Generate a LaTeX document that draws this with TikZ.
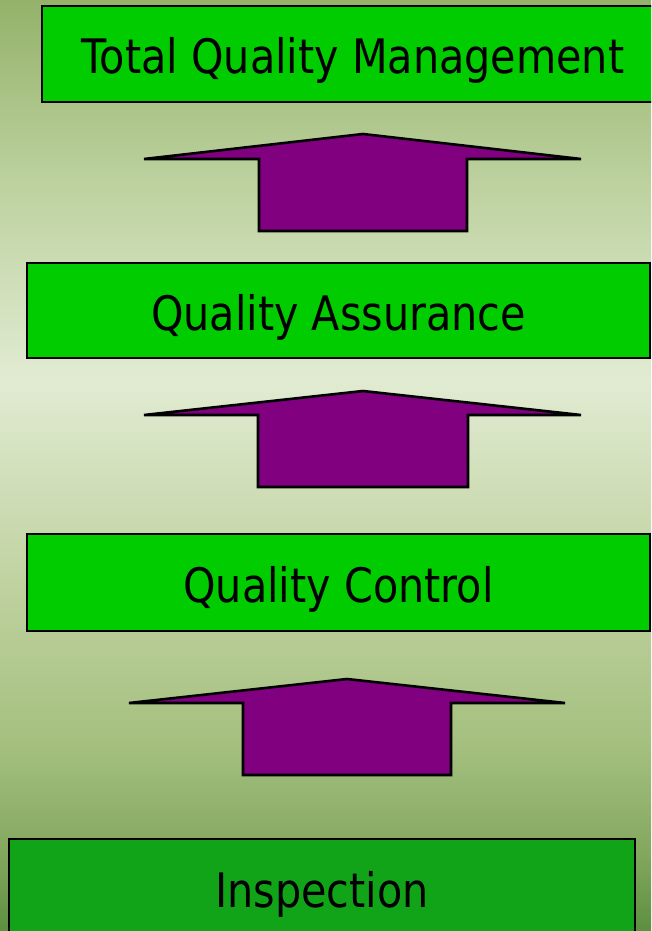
\documentclass[tikz,border=0pt]{standalone}
\usepackage{fontspec}
\setmainfont[FakeStretch=0.87]{DejaVu Sans}
\definecolor{bgA}{HTML}{94B26A}
\definecolor{bgB}{HTML}{BCD19E}
\definecolor{bgC}{HTML}{E1EBD2}
\definecolor{bgD}{HTML}{BDD09C}
\definecolor{bgE}{HTML}{A3BF7E}
\definecolor{bgF}{HTML}{84A860}
\definecolor{bgG}{HTML}{5D8F40}
\definecolor{boxgreen}{HTML}{00CC00}
\definecolor{inspgreen}{HTML}{12A418}
\definecolor{arrowpurple}{HTML}{800080}
\pgfdeclareverticalshading{bgshade}{100bp}{color(0bp)=(bgG); color(25bp)=(bgG); color(29.35bp)=(bgF); color(34.72bp)=(bgE); color(42.78bp)=(bgD); color(54.59bp)=(bgC); color(65.33bp)=(bgB); color(75bp)=(bgA); color(100bp)=(bgA)}
\tikzset{
  stagebox/.style={draw=black, line width=2.7pt, fill=boxgreen, inner sep=0pt,
    text height=40pt, text depth=0pt, font=\fontsize{47.5}{50}\selectfont, text=black},
  blockarrow/.style={draw=black, line width=2.6pt, fill=arrowpurple, line join=miter}
}
\begin{document}
\begin{tikzpicture}[x=1pt,y=-1pt]
\useasboundingbox (0,0) rectangle (651,931);
\clip (0,0) rectangle (651,931);
\shade[shading=bgshade] (0,0) rectangle (651,931);

\node[stagebox, minimum width=622pt, minimum height=96pt] (tqm) at (353,54) {Total Quality Management};
\node[stagebox, minimum width=623pt, minimum height=95pt] (qa) at (338.5,310.5) {Quality Assurance};
\node[stagebox, minimum width=623pt, minimum height=97pt] (qc) at (338.5,582.5) {Quality Control};
\node[stagebox, fill=inspgreen, minimum width=626pt, minimum height=96pt] (insp) at (322,887) {Inspection};

% block arrows
\draw[blockarrow] (259,231) -- (259,159) -- (144,159) -- (363,134) -- (581,159) -- (467,159) -- (467,231) -- cycle;
\draw[blockarrow] (258,487) -- (258,415) -- (144,415) -- (363,391) -- (581,415) -- (468,415) -- (468,487) -- cycle;
\draw[blockarrow] (243,775) -- (243,703) -- (129,703) -- (347,679) -- (565,703) -- (451,703) -- (451,775) -- cycle;
\end{tikzpicture}
\end{document}
